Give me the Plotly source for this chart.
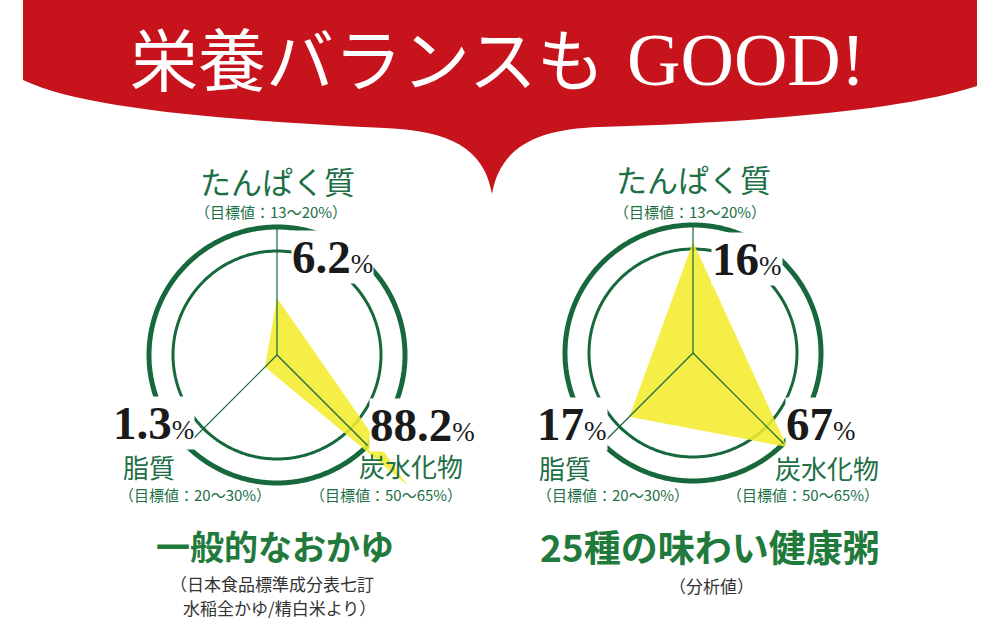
import numpy as np
import plotly.graph_objects as go

# ---------------- data ----------------
categories = ["たんぱく質", "炭水化物", "脂質"]
targets = ["13〜20%", "50〜65%", "20〜30%"]
left_values = [6.2, 88.2, 1.3]
right_values = [16, 67, 17]
# drawn extents of the yellow shapes (px from centre)
left_extent = [57, 184, 17]
right_extent = [111, 133, 90]
left_title = "一般的なおかゆ"
left_note = ["（日本食品標準成分表七訂", "水稲全かゆ/精白米より）"]
right_title = "25種の味わい健康粥"
right_note = ["（分析値）"]
banner_jp = "栄養バランスも"
banner_en = "GOOD!"

# ---------------- style / layout ----------------
W, H = 1000, 621
GREEN = "#17683c"
TEXT_GREEN = "#1d6f45"
YELLOW = "rgba(242,236,45,0.88)"
RED = "#c7141c"
JP = "Noto Sans CJK JP"
SERIF = "Liberation Serif"
R = 190           # polar range in px
R_OUT, R_IN = 128, 104
AXIS_ANGLES = [90, 315, 225]


def px(x, y):
    return x / W, 1 - y / H


fig = go.Figure()


def add_radar(name, cx, cy, extents):
    sub = name
    ring = np.linspace(0, 360, 361)
    fig.add_trace(go.Scatterpolar(r=[R_OUT] * len(ring), theta=ring, mode="lines",
                                  line=dict(color=GREEN, width=5), subplot=sub,
                                  hoverinfo="skip", showlegend=False))
    fig.add_trace(go.Scatterpolar(r=[R_IN] * len(ring), theta=ring, mode="lines",
                                  line=dict(color=GREEN, width=3), subplot=sub,
                                  hoverinfo="skip", showlegend=False))
    fig.add_trace(go.Scatterpolar(r=list(extents) + [extents[0]],
                                  theta=AXIS_ANGLES + [AXIS_ANGLES[0]],
                                  mode="lines", fill="toself", fillcolor=YELLOW,
                                  line=dict(width=0, color="rgba(0,0,0,0)"),
                                  subplot=sub, showlegend=False, hoverinfo="skip"))
    for a in AXIS_ANGLES:
        fig.add_trace(go.Scatterpolar(r=[0, R_OUT], theta=[a, a], mode="lines",
                                      line=dict(color=GREEN, width=1.2), subplot=sub,
                                      hoverinfo="skip", showlegend=False))
    x0, y0 = px(cx - R, cy + R)
    x1, y1 = px(cx + R, cy - R)
    fig.layout[name] = dict(
        domain=dict(x=[x0, x1], y=[y0, y1]),
        bgcolor="rgba(0,0,0,0)",
        radialaxis=dict(range=[0, R], visible=False),
        angularaxis=dict(visible=False, rotation=0, direction="counterclockwise"),
    )


add_radar("polar", 277, 355, left_extent)
add_radar("polar2", 693, 353, right_extent)

annots = []


def text(x, y, s, size, color, family=JP, xanchor="center", bg=None):
    ax, ay = px(x, y)
    d = dict(x=ax, y=ay, xref="paper", yref="paper", text=s, showarrow=False,
             xanchor=xanchor, yanchor="middle",
             font=dict(size=size, color=color, family=family))
    if bg:
        d.update(bgcolor=bg, borderpad=0)
    annots.append(d)


def value_label(v):
    return f"<b>{v:g}</b><span style='font-size:27px'>%</span>"


# banner text
text(367, 57, banner_jp, 68, "white", family=JP)
text(625, 60, banner_en, 74, "white", family=SERIF, xanchor="left")

# left chart labels
text(277, 181, categories[0], 31, TEXT_GREEN)
text(271, 212, f"（目標値：{targets[0]}）", 15, TEXT_GREEN)
text(291, 257, value_label(left_values[0]), 47, "#1a1a1a", family=SERIF, xanchor="left", bg="white")
text(369, 425, value_label(left_values[1]), 47, "#1a1a1a", family=SERIF, xanchor="left", bg="white")
text(465, 465, categories[1], 26, TEXT_GREEN, xanchor="right")
text(464, 494, f"（目標値：{targets[1]}）", 15, TEXT_GREEN, xanchor="right")
text(112, 423, value_label(left_values[2]), 47, "#1a1a1a", family=SERIF, xanchor="left", bg="white")
text(121, 466, categories[2], 26, TEXT_GREEN, xanchor="left")
text(117, 494, f"（目標値：{targets[2]}）", 15, TEXT_GREEN, xanchor="left")

# right chart labels
text(693, 179, categories[0], 31, TEXT_GREEN)
text(690, 212, f"（目標値：{targets[0]}）", 15, TEXT_GREEN)
text(711, 259, value_label(right_values[0]), 47, "#1a1a1a", family=SERIF, xanchor="left", bg="white")
text(785, 424, value_label(right_values[1]), 47, "#1a1a1a", family=SERIF, xanchor="left", bg="white")
text(881, 467, categories[1], 26, TEXT_GREEN, xanchor="right")
text(881, 494, f"（目標値：{targets[1]}）", 15, TEXT_GREEN, xanchor="right")
text(536, 424, value_label(right_values[2]), 47, "#1a1a1a", family=SERIF, xanchor="left", bg="white")
text(537, 467, categories[2], 26, TEXT_GREEN, xanchor="left")
text(535, 494, f"（目標値：{targets[2]}）", 15, TEXT_GREEN, xanchor="left")

# bottom titles
text(275, 545, f"<b>{left_title}</b>", 34, "#1f7a3c")
text(272, 583, left_note[0], 17, "#333333")
text(279, 607, left_note[1], 17, "#333333")
text(710, 546, f"<b>{right_title}</b>", 37, "#1f7a3c")
text(711, 585, right_note[0], 17, "#333333")

# banner shape (pixel coords -> paper)
pts = [
    ("M", [(23, -2)]),
    ("L", [(977, -2)]),
    ("L", [(977, 86)]),
    ("C", [(905, 110), (760, 122), (600, 127)]),
    ("C", [(535, 129), (500, 148), (492, 194)]),
    ("C", [(484, 148), (450, 131), (385, 128)]),
    ("C", [(240, 121), (85, 110), (23, 80)]),
]
path = ""
for cmd, ps in pts:
    path += cmd + " " + " ".join(f"{px(x, y)[0]:.5f},{px(x, y)[1]:.5f}" for x, y in ps) + " "
path += "Z"

fig.update_layout(
    width=W, height=H,
    margin=dict(l=0, r=0, t=0, b=0),
    paper_bgcolor="white", plot_bgcolor="white",
    showlegend=False,
    annotations=annots,
    shapes=[dict(type="path", path=path, xref="paper", yref="paper",
                 fillcolor=RED, line=dict(width=0), layer="below")],
)

fig.write_html("out.html", config={"displayModeBar": False},
               post_script="document.body.style.margin='0';document.body.style.overflow='hidden';")
